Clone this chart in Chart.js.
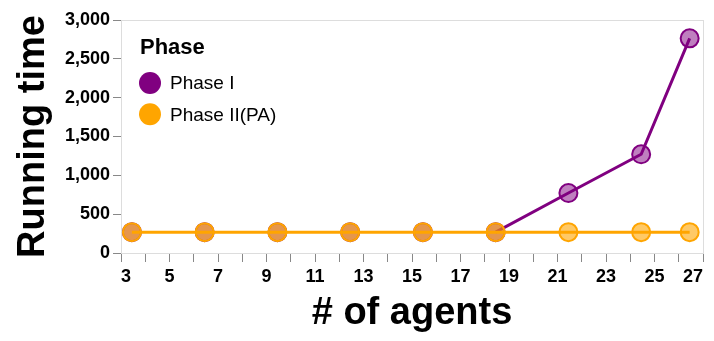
<!DOCTYPE html>
<html>
<head>
<meta charset="utf-8">
<script src="https://cdn.jsdelivr.net/npm/chart.js@4"></script>
<style>
  html, body { margin: 0; padding: 0; background: #fff; }
  #wrap { width: 714px; height: 341px; }
</style>
</head>
<body>
<div id="wrap"><canvas id="runChart"></canvas></div>
<script>
// values
const agents = [3.45, 6.45, 9.45, 12.45, 15.45, 18.45, 21.45, 24.45, 26.45];
const phaseI = [268, 268, 268, 268, 268, 268, 772, 1271, 2764];
const phaseII = [268, 268, 268, 268, 268, 268, 268, 268, 268];
const seriesNames = ["Phase I", "Phase II(PA)"];
const seriesColors = ["#800080", "#ffa500"];
const xMin = 3, xMax = 27;
const yMin = 0, yMax = 3000, yStep = 500;

const FONT = "'Liberation Sans', Arial, sans-serif";

function toPoints(values) {
    return values.map((v, i) => ({ x: agents[i], y: v }));
}

// phase I segments lying exactly under phase II are covered there
function hiddenUnderPhaseII(seg) {
    const i0 = seg.p0DataIndex, i1 = seg.p1DataIndex;
    if (phaseI[i0] === phaseII[i0] && phaseI[i1] === phaseII[i1]) return "rgba(0,0,0,0)";
    return undefined;
}

// light frame around the plot + legend drawn inside the plot
const framePlugin = {
    id: "frame",
    beforeDatasetsDraw(chart) {
        const { ctx, chartArea: a } = chart;
        ctx.save();
        ctx.strokeStyle = "#dddddd";
        ctx.lineWidth = 1;
        ctx.strokeRect(a.left + 0.5, a.top + 0.5, a.right - a.left, a.bottom - a.top);
        ctx.restore();
    },
    afterDraw(chart) {
        const { ctx, chartArea: a } = chart;
        const x0 = a.left + 19;
        ctx.save();
        ctx.textBaseline = "middle";
        ctx.textAlign = "left";
        ctx.fillStyle = "#000";
        ctx.font = "bold 22px " + FONT;
        ctx.fillText("Phase", x0, a.top + 28);
        ctx.font = "19px " + FONT;
        seriesNames.forEach((name, i) => {
            const cy = a.top + 63 + i * 31.3;
            ctx.beginPath();
            ctx.arc(x0 + 10, cy, 11, 0, Math.PI * 2);
            ctx.fillStyle = seriesColors[i];
            ctx.fill();
            ctx.fillStyle = "#000";
            ctx.fillText(name, x0 + 30, cy + 1);
        });
        ctx.restore();
    }
};

const ctx = document.getElementById("runChart").getContext("2d");

new Chart(ctx, {
    type: "line",
    data: {
        datasets: [
            {
                label: seriesNames[0],
                data: toPoints(phaseI),
                borderColor: seriesColors[0],
                backgroundColor: "rgba(128,0,128,0.5)",
                pointBackgroundColor: "rgba(128,0,128,0.5)",
                pointBorderColor: seriesColors[0],
                borderWidth: 3,
                pointRadius: 9,
                pointBorderWidth: 2,
                segment: { borderColor: hiddenUnderPhaseII },
                order: 1
            },
            {
                label: seriesNames[1],
                data: toPoints(phaseII),
                borderColor: seriesColors[1],
                backgroundColor: "rgba(255,165,0,0.6)",
                pointBackgroundColor: "rgba(255,165,0,0.6)",
                pointBorderColor: seriesColors[1],
                borderWidth: 3,
                pointRadius: 9,
                pointBorderWidth: 2,
                order: 0
            }
        ]
    },
    options: {
        responsive: true,
        maintainAspectRatio: false,
        animation: false,
        layout: { padding: { top: 20, right: 11, left: 0, bottom: 0 } },
        plugins: {
            legend: { display: false },
            tooltip: { enabled: false }
        },
        scales: {
            x: {
                type: "linear",
                min: xMin,
                max: xMax,
                afterFit(scale) { scale.height = 88; },
                ticks: {
                    stepSize: 1,
                    autoSkip: false,
                    maxRotation: 0,
                    align: "inner",
                    color: "#000",
                    padding: 4,
                    font: { family: FONT, size: 18, weight: "bold" },
                    callback: (v) => (v % 2 === 1 ? String(v) : "")
                },
                grid: { drawOnChartArea: false, drawTicks: true, tickLength: 9, color: "#888" },
                border: { display: true, color: "#888", width: 1 },
                title: {
                    display: true,
                    text: "# of agents",
                    color: "#000",
                    padding: { top: 0, bottom: 5 },
                    font: { family: FONT, size: 38, weight: "bold" }
                }
            },
            y: {
                min: yMin,
                max: yMax,
                afterFit(scale) { scale.width = 121; },
                ticks: {
                    stepSize: yStep,
                    color: "#000",
                    padding: 3,
                    font: { family: FONT, size: 18, weight: "bold" },
                    callback: (v) => v.toLocaleString("en-US")
                },
                grid: { drawOnChartArea: false, drawTicks: true, tickLength: 8, color: "#888" },
                border: { display: true, color: "#888", width: 1 },
                title: {
                    display: true,
                    text: "Running time",
                    color: "#000",
                    padding: { top: 11, bottom: 0 },
                    font: { family: FONT, size: 38, weight: "bold" }
                }
            }
        }
    },
    plugins: [framePlugin]
});
</script>
</body>
</html>
